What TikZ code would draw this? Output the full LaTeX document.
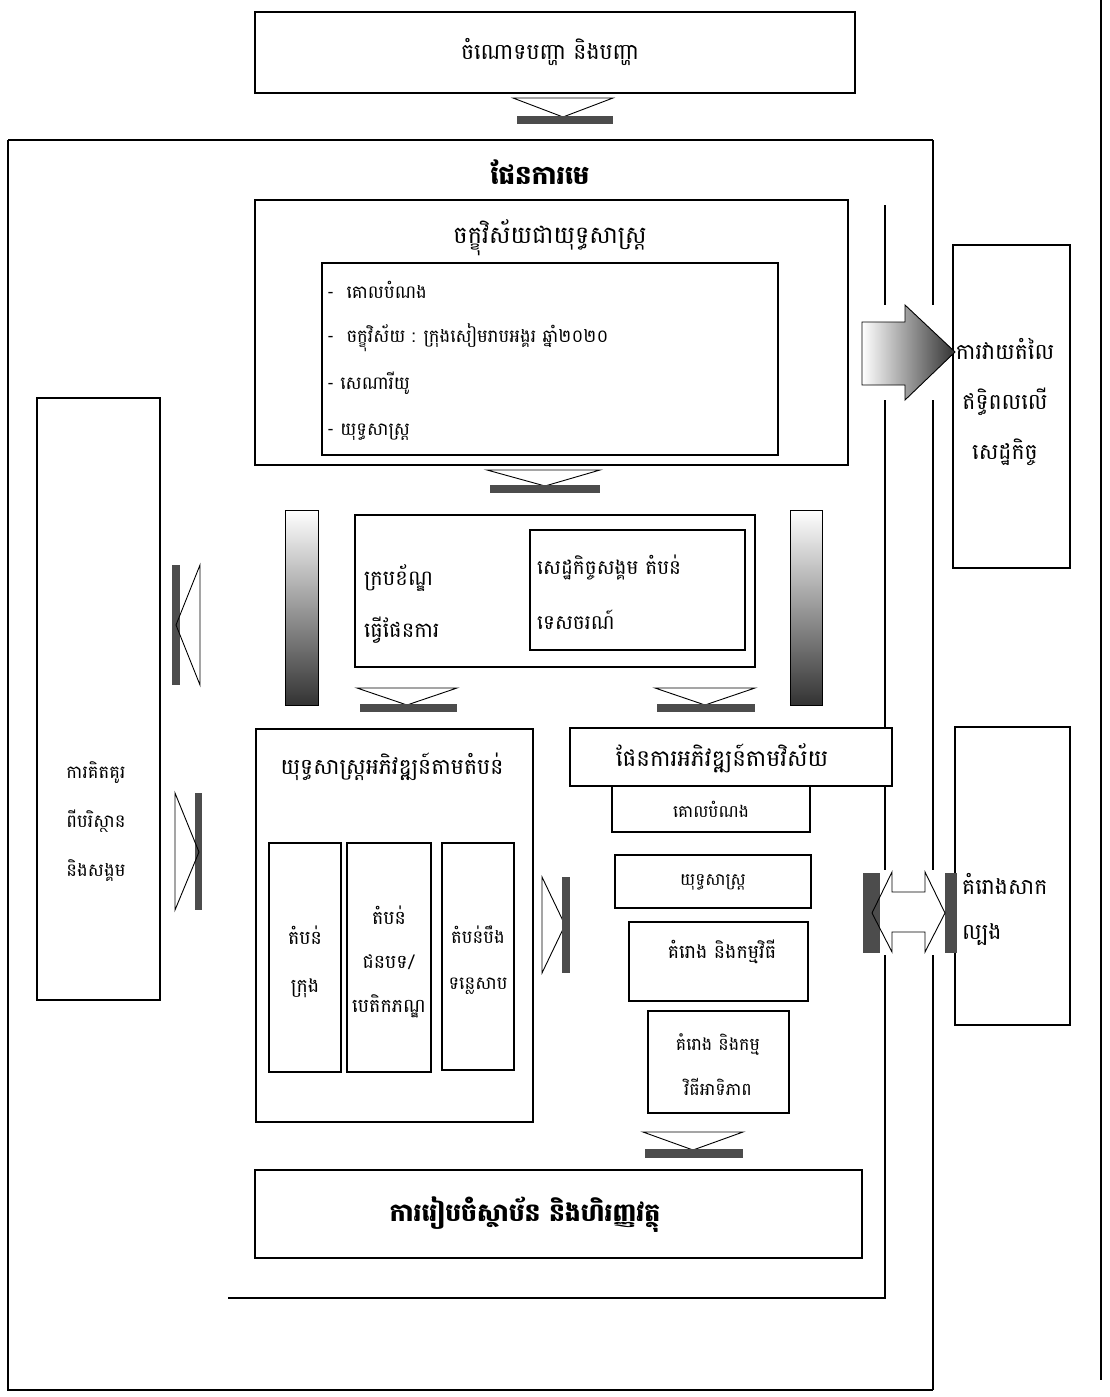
\documentclass[tikz,border=0pt]{standalone}
\usepackage{fontspec}
\newfontfamily\km[Script=Khmer]{Battambang}
\usetikzlibrary{fit}
\tikzset{
  box/.style={draw, line width=1.1pt, fill=white, inner sep=0pt},
  kt/.style={font=\km\fontsize{17}{20}\selectfont, inner sep=0pt},
  kbig/.style={font=\km\fontsize{24}{28}\selectfont, inner sep=0pt},
  kbold/.style={font=\km\bfseries\fontsize{24}{28}\selectfont, inner sep=0pt},
  frame/.style={line width=1.4pt},
  tri/.style={line width=0.9pt},
  darkbar/.style={fill=black!70},
}
\begin{document}
\begin{tikzpicture}[x=1pt,y=-1pt]
\useasboundingbox[fill=white] (0,0) rectangle (1109,1397);

% ---------- frame lines ----------
\draw[frame] (8,140) -- (933,140);
\draw[frame] (8,140) -- (8,1390) -- (933,1390);
\draw[frame] (885,205) -- (885,305);
\draw[frame] (885,400) -- (885,870);
\draw[frame] (885,955) -- (885,1298) -- (228,1298);
\draw[frame] (933,140) -- (933,305);
\draw[frame] (933,400) -- (933,870);
\draw[frame] (933,955) -- (933,1390);
\draw[frame] (1101,0) -- (1101,1380);

% ---------- top problem box ----------
\node[box, fit={(255,12) (855,93)}] (prob) {};
\node[kt, font=\km\fontsize{22}{26}\selectfont] (probt) at (550,52) {ចំណោទបញ្ហា និងបញ្ហា};
\draw[tri] (513,98) -- (563,117) -- (613,98) -- cycle;
\fill[darkbar] (517,116) rectangle (613,124);

% ---------- master plan title ----------
\node[kbold, font=\km\bfseries\fontsize{26}{30}\selectfont] (master) at (540,172) {ផែនការមេ};

% ---------- vision box ----------
\node[box, fit={(255,200) (848,465)}] (vision) {};
\node[kbig] (visiont) at (550,238) {ចក្ខុវិស័យជាយុទ្ធសាស្ត្រ};
\node[box, fit={(322,263) (778,455)}] (vlist) {};
\node[kt, anchor=west, font=\km\fontsize{18}{22}\selectfont] (v1) at (327,290) {-\ \ គោលបំណង};
\node[kt, anchor=west, font=\km\fontsize{18}{22}\selectfont] (v2) at (327,338) {-\ \ ចក្ខុវិស័យ : ក្រុងសៀមរាបអង្គរ ឆ្នាំ២០២០};
\node[kt, anchor=west, font=\km\fontsize{18}{22}\selectfont] (v3) at (327,383) {- សេណារីយូ};
\node[kt, anchor=west, font=\km\fontsize{18}{22}\selectfont] (v4) at (327,432) {- យុទ្ធសាស្ត្រ};
\draw[tri] (487,470) -- (545,486) -- (600,470) -- cycle;
\fill[darkbar] (490,485) rectangle (600,493);

% ---------- gradient side bars ----------
\shade[top color=white, bottom color=black!80] (285,510) rectangle (318,705);
\draw[line width=0.8pt] (285,510) rectangle (318,705);
\shade[top color=white, bottom color=black!80] (790,510) rectangle (822,705);
\draw[line width=0.8pt] (790,510) rectangle (822,705);

% ---------- planning framework ----------
\node[box, fit={(355,515) (755,667)}] (frm) {};
\node[kt, font=\km\fontsize{21}{24}\selectfont, anchor=west] (frm1) at (364,578) {ក្របខ័ណ្ឌ};
\node[kt, font=\km\fontsize{21}{24}\selectfont, anchor=west] (frm2) at (364,630) {ធ្វើផែនការ};
\node[box, fit={(530,530) (745,650)}] (soc) {};
\node[kt, anchor=west, font=\km\fontsize{20}{24}\selectfont] (soc1) at (537,567) {សេដ្ឋកិច្ចសង្គម តំបន់};
\node[kt, anchor=west, font=\km\fontsize{20}{24}\selectfont] (soc2) at (537,620) {ទេសចរណ៍};
\draw[tri] (357,688) -- (407,705) -- (457,688) -- cycle;
\fill[darkbar] (360,704) rectangle (457,712);
\draw[tri] (655,688) -- (705,705) -- (755,688) -- cycle;
\fill[darkbar] (657,704) rectangle (755,712);

% ---------- zone strategy ----------
\node[box, fit={(256,729) (533,1122)}] (zone) {};
\node[kt, font=\km\fontsize{22}{26}\selectfont] (zonet) at (392,767) {យុទ្ធសាស្ត្រអភិវឌ្ឍន៍តាមតំបន់};
\node[box, fit={(269,843) (341,1072)}] (z1) {};
\node[kt, align=center, font=\km\fontsize{19}{48}\selectfont] (z1t) at (305,962) {តំបន់\\ក្រុង};
\node[box, fit={(347,843) (431,1072)}] (z2) {};
\node[kt, align=center, font=\km\fontsize{19}{44}\selectfont] (z2t) at (389,962) {តំបន់\\ជនបទ/\\បេតិកភណ្ឌ};
\node[box, fit={(442,843) (514,1070)}] (z3) {};
\node[kt, align=center, font=\km\fontsize{18}{46}\selectfont] (z3t) at (478,960) {តំបន់បឹង\\ទន្លេសាប};
\draw[tri] (542,877) -- (565,925) -- (542,973) -- cycle;
\fill[darkbar] (562,877) rectangle (570,973);

% ---------- sector plan ----------
\node[box, fit={(570,728) (892,786)}] (sect) {};
\node[kt, font=\km\fontsize{23}{26}\selectfont] (sectt) at (722,758) {ផែនការអភិវឌ្ឍន៍តាមវិស័យ};
\node[box, fit={(612,786) (810,832)}] (s1) {};
\node[kt] (s1t) at (711,809) {គោលបំណង};
\node[box, fit={(615,855) (811,908)}] (s2) {};
\node[kt] (s2t) at (713,882) {យុទ្ធសាស្ត្រ};
\node[box, fit={(629,922) (808,1001)}] (s3) {};
\node[kt, font=\km\fontsize{19}{22}\selectfont] (s3t) at (722,952) {គំរោង និងកម្មវិធី};
\node[box, fit={(648,1011) (789,1113)}] (s4) {};
\node[kt, align=center, font=\km\fontsize{17.5}{45}\selectfont] (s4t) at (718,1065) {គំរោង និងកម្ម\\វិធីអាទិភាព};
\draw[tri] (643,1132) -- (693,1150) -- (743,1132) -- cycle;
\fill[darkbar] (645,1149) rectangle (743,1158);

% ---------- institutional ----------
\node[box, fit={(255,1170) (862,1258)}] (inst) {};
\node[kbold, font=\km\bfseries\fontsize{25}{28}\selectfont] (instt) at (525,1215) {ការរៀបចំស្ថាប័ន  និងហិរញ្ញវត្ថុ};

% ---------- left: environment ----------
\node[box, fit={(37,398) (160,1000)}] (env) {};
\node[kt, align=center, font=\km\fontsize{18}{49}\selectfont] (envt) at (96,822) {ការគិតគូរ\\ពីបរិស្ថាន\\និងសង្គម};
\fill[darkbar] (172,565) rectangle (180,685);
\draw[tri] (200,565) -- (176,625) -- (200,685) -- cycle;
\fill[darkbar] (195,793) rectangle (202,910);
\draw[tri] (175,793) -- (199,852) -- (175,910) -- cycle;

% ---------- right: economic impact ----------
\node[box, fit={(953,245) (1070,568)}] (eco) {};
\node[kt, align=center, font=\km\fontsize{22}{50}\selectfont] (ecot) at (1005,402) {ការវាយតំលៃ\\ឥទ្ធិពលលើ\\សេដ្ឋកិច្ច};
\shade[left color=white, middle color=white, right color=black!80]
  (862,322) -- (905,322) -- (905,305) -- (955,352) -- (905,400) -- (905,385) -- (862,385) -- cycle;
\draw[tri] (862,322) -- (905,322) -- (905,305) -- (955,352) -- (905,400) -- (905,385) -- (862,385) -- cycle;

% ---------- right: pilot project ----------
\node[box, fit={(955,727) (1070,1025)}] (pilot) {};
\node[kt, anchor=west, font=\km\fontsize{22}{26}\selectfont] (pil1) at (962,884) {គំរោងសាក};
\node[kt, anchor=west, font=\km\fontsize{22}{26}\selectfont] (pil2) at (962,935) {ល្បង};
\fill[darkbar] (863,873) rectangle (880,953);
\fill[darkbar] (945,873) rectangle (957,953);
\draw[tri] (872,913) -- (892,872) -- (892,892) -- (925,892) -- (925,872) -- (945,913)
  -- (925,952) -- (925,932) -- (892,932) -- (892,952) -- cycle;
\end{tikzpicture}
\end{document}
